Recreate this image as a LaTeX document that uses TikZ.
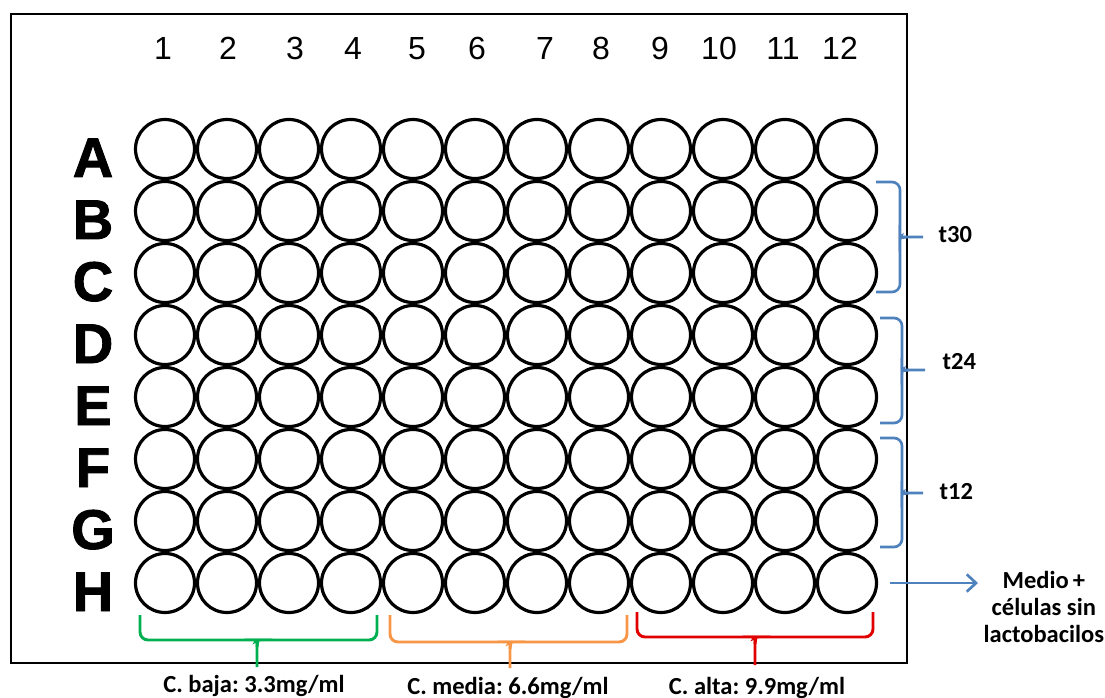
\documentclass[tikz,border=0pt]{standalone}
\usepackage{fontspec}
\setmainfont{Liberation Sans}
\newfontfamily\calib{Carlito}
\newfontfamily\heavyfont{Liberation Sans Bold}[FakeBold=1.6]
\usetikzlibrary{arrows.meta}
\definecolor{mblue}{HTML}{4F81BD}
\definecolor{mgreen}{HTML}{00B050}
\definecolor{morange}{HTML}{F79646}
\definecolor{mred}{HTML}{E00000}
\frenchspacing
\begin{document}
\begin{tikzpicture}[x=0.75pt,y=-0.75pt,
  well/.style={circle,draw=black,line width=2.4pt,inner sep=0pt,minimum size=44.25pt},
  collab/.style={anchor=base,font=\fontsize{24}{28}\selectfont},
  rowlab/.style={anchor=base,font=\heavyfont\fontsize{42}{48}\selectfont},
  lab/.style={font=\calib\bfseries\fontsize{18.4}{20}\selectfont},
  vbrace/.style={line width=2.2pt,rounded corners=6pt},
  hbrace/.style={mblue,line width=2pt,rounded corners=6pt},
  plate/.style={draw=black,line width=1.6pt}]
\useasboundingbox (0,0) rectangle (1105,698);
\draw[plate] (11,14) rectangle (907,663);
% column labels
\foreach \c/\x in {1/163,2/228,3/295,4/353,5/417,6/477,7/545,8/601,9/660,10/719,11/783,12/840}
  \node[collab] (c-\c) at (\x,60) {\c};
% wells and row labels
\foreach \r [count=\i from 0] in {A,B,C,D,E,F,G,H} {
  \node[rowlab] (r-\r) at (93,149+62*\i+28) {\r};
  \foreach \j in {1,...,12}
    \node[well] (w-\r-\j) at (165+62*\j-62,149+62*\i) {};
}
% right blue braces
\draw[hbrace] (876,182) -- (900,182) -- (900,231) to[out=-90,in=180] (907,237) -- (923,237);
\draw[hbrace] (876,292) -- (900,292) -- (900,243) to[out=90,in=180] (907,237);
\draw[hbrace] (880,318) -- (902,318) -- (902,364) to[out=-90,in=180] (909,370) -- (925,370);
\draw[hbrace] (880,423) -- (902,423) -- (902,376) to[out=90,in=180] (909,370);
\draw[hbrace] (880,438) -- (902,438) -- (902,487) to[out=-90,in=180] (909,493) -- (923,493);
\draw[hbrace] (880,547) -- (902,547) -- (902,499) to[out=90,in=180] (909,493);
\node[lab,anchor=base west] (t30) at (934,243) {t30};
\node[lab,anchor=base west] (t24) at (938,369) {t24};
\node[lab,anchor=base west] (t12) at (935,499) {t12};
% bottom braces
\draw[vbrace,mgreen] (140,615) -- (140,640) -- (251,640) to[out=0,in=90] (257,647) -- (257,667);
\draw[vbrace,mgreen] (377,615) -- (377,640) -- (263,640) to[out=180,in=90] (257,647);
\draw[vbrace,morange] (390,615) -- (390,642) -- (504,642) to[out=0,in=90] (510,649) -- (510,668);
\draw[vbrace,morange] (627,615) -- (627,642) -- (516,642) to[out=180,in=90] (510,649);
\draw[vbrace,mred] (637,612) -- (637,637) -- (749,637) to[out=0,in=90] (755,644) -- (755,665);
\draw[vbrace,mred] (873,612) -- (873,637) -- (761,637) to[out=180,in=90] (755,644);
\node[lab,anchor=base] (baja) at (254,692) {C. baja: 3.3mg/ml};
\node[lab,anchor=base] (media) at (508,694) {C. media: 6.6mg/ml};
\node[lab,anchor=base] (alta) at (757,694) {C. alta: 9.9mg/ml};
% medio
\node[lab,align=center,anchor=west,inner sep=4pt] (medio) at (978,607) {Medio\,+\\células sin\\lactobacilos};
\draw[mblue,line width=2pt,-{Straight Barb[length=7pt,width=13pt,line width=2pt]},shorten <=9pt]
  (w-H-12.east) -- (w-H-12.east -| medio.west);
\end{tikzpicture}
\end{document}
